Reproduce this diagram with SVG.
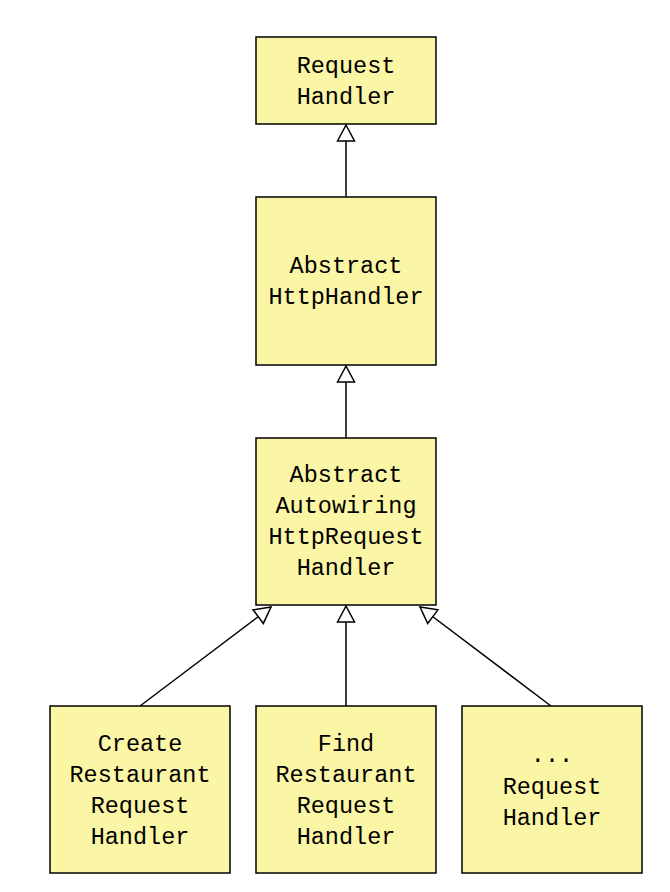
<svg xmlns="http://www.w3.org/2000/svg" width="670" height="892" viewBox="0 0 670 892">
<style>
.box{fill:#fbf5a6;stroke:#000;stroke-width:1.5}
.t{font-family:"Liberation Mono","Courier New",monospace;font-size:23.5px;fill:#000;text-anchor:middle}
.c{stroke:#000;stroke-width:1.5;fill:none;marker-end:url(#tri)}
</style>
<defs>
<marker id="tri" markerUnits="userSpaceOnUse" markerWidth="20" markerHeight="20" viewBox="0 0 20 20" refX="18" refY="10" orient="auto">
<path d="M2,1.5 L18,10 L2,18.5 Z" fill="#fff" stroke="#000" stroke-width="1.5"/>
</marker>
</defs>
<rect width="670" height="892" fill="#fff"/>
<g id="connectors">
<line class="c" x1="346" y1="197" x2="346" y2="125"/>
<line class="c" x1="346" y1="438" x2="346" y2="366"/>
<line class="c" x1="346" y1="706" x2="346" y2="606"/>
<line class="c" x1="140" y1="706" x2="271" y2="607"/>
<line class="c" x1="551" y1="706" x2="420" y2="607"/>
</g>
<g id="requestHandler">
<rect class="box" x="256" y="37" width="180" height="87"/>
<text class="t" x="346" y="73">Request</text>
<text class="t" x="346" y="104">Handler</text>
</g>
<g id="abstractHttpHandler">
<rect class="box" x="256" y="197" width="180" height="168"/>
<text class="t" x="346" y="273">Abstract</text>
<text class="t" x="346" y="304">HttpHandler</text>
</g>
<g id="abstractAutowiring">
<rect class="box" x="256" y="438" width="180" height="167"/>
<text class="t" x="346" y="482">Abstract</text>
<text class="t" x="346" y="513">Autowiring</text>
<text class="t" x="346" y="544">HttpRequest</text>
<text class="t" x="346" y="575">Handler</text>
</g>
<g id="createRestaurant">
<rect class="box" x="50" y="706" width="180" height="167"/>
<text class="t" x="140" y="751">Create</text>
<text class="t" x="140" y="782">Restaurant</text>
<text class="t" x="140" y="813">Request</text>
<text class="t" x="140" y="844">Handler</text>
</g>
<g id="findRestaurant">
<rect class="box" x="256" y="706" width="180" height="167"/>
<text class="t" x="346" y="751">Find</text>
<text class="t" x="346" y="782">Restaurant</text>
<text class="t" x="346" y="813">Request</text>
<text class="t" x="346" y="844">Handler</text>
</g>
<g id="otherRequestHandler">
<rect class="box" x="462" y="706" width="180" height="167"/>
<text class="t" x="552" y="762">...</text>
<text class="t" x="552" y="794">Request</text>
<text class="t" x="552" y="825">Handler</text>
</g>
</svg>
